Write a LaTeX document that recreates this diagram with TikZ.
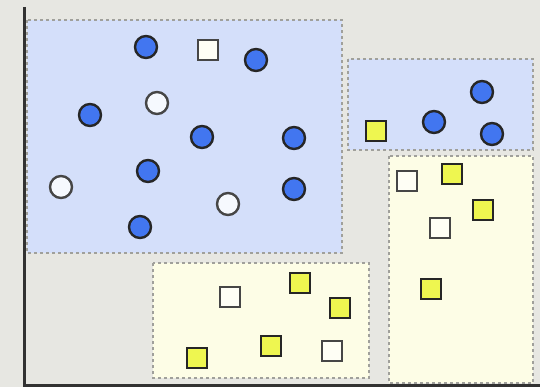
\documentclass[tikz,border=0pt]{standalone}
\usepackage{tikz}
\usetikzlibrary{positioning}
\definecolor{bgGray}{RGB}{231, 231, 226}
\definecolor{axisGray}{RGB}{50, 50, 50}
\definecolor{regionBlue}{RGB}{212, 223, 250}
\definecolor{regionYellow}{RGB}{253, 253, 230}
\definecolor{dotBlue}{RGB}{66, 118, 240}
\definecolor{markYellow}{RGB}{238, 246, 80}
\definecolor{edgeGray}{RGB}{160, 160, 155}
\definecolor{hollowGray}{RGB}{70, 70, 70}

\begin{document}
\begin{tikzpicture}[
    x=1pt, y=-1pt,
    region/.style={draw=edgeGray, dashed, line width=1.2pt},
    fullcirc/.style={circle, draw=black!85, fill=dotBlue, line width=2.4pt,
                     minimum size=22pt, inner sep=0pt},
    hollowcirc/.style={circle, draw=hollowGray, fill=white!80!regionBlue, line width=2.4pt,
                       minimum size=22pt, inner sep=0pt},
    fullsq/.style={rectangle, draw=black!85, fill=markYellow, line width=2.4pt,
                   minimum size=20.5pt, inner sep=0pt},
    hollowsq/.style={rectangle, draw=hollowGray, fill=white!60!regionYellow, line width=2.4pt,
                     minimum size=20.5pt, inner sep=0pt},
  ]
    \useasboundingbox (0,0) rectangle (540,387);
    \fill[bgGray] (0,0) rectangle (540,387);

    % regions
    \filldraw[region, fill=regionBlue] (27,20) rectangle (342,253);
    \filldraw[region, fill=regionBlue] (348,59) rectangle (533,150);
    \filldraw[region, fill=regionYellow] (153,263) rectangle (369,378);
    \filldraw[region, fill=regionYellow] (389,156) rectangle (533,383);

    % axes
    \coordinate (top) at (24,7);
    \coordinate (origin) at (24,385);
    \coordinate (right) at (540,385);
    \draw[axisGray, line width=3pt] (top) -- (origin) -- (right);

    % large blue region
    \node[fullcirc] (A1) at (146,47) {};
    \node[hollowsq] (A2) at (208,50) {};
    \node[fullcirc] (A3) at (256,60) {};
    \node[fullcirc] (A4) at (90,115) {};
    \node[hollowcirc] (A5) at (157,103) {};
    \node[fullcirc] (A6) at (202,137) {};
    \node[fullcirc] (A7) at (294,138) {};
    \node[fullcirc] (A8) at (148,171) {};
    \node[hollowcirc] (A9) at (61,187) {};
    \node[hollowcirc] (A10) at (228,204) {};
    \node[fullcirc] (A11) at (294,189) {};
    \node[fullcirc] (A12) at (140,227) {};

    % small blue region
    \node[fullsq] (B1) at (376,131) {};
    \node[fullcirc] (B2) at (434,122) {};
    \node[fullcirc] (B3) at (482,92) {};
    \node[fullcirc] (B4) at (492,134) {};

    % right yellow region
    \node[hollowsq] (C1) at (407,181) {};
    \node[fullsq] (C2) at (452,174) {};
    \node[fullsq] (C3) at (483,210) {};
    \node[hollowsq] (C4) at (440,228) {};
    \node[fullsq] (C5) at (431,289) {};

    % bottom yellow region
    \node[hollowsq] (D1) at (230,297) {};
    \node[fullsq] (D2) at (300,283) {};
    \node[fullsq] (D3) at (340,308) {};
    \node[fullsq] (D4) at (197,358) {};
    \node[fullsq] (D5) at (271,346) {};
    \node[hollowsq] (D6) at (332,351) {};
\end{tikzpicture}
\end{document}
